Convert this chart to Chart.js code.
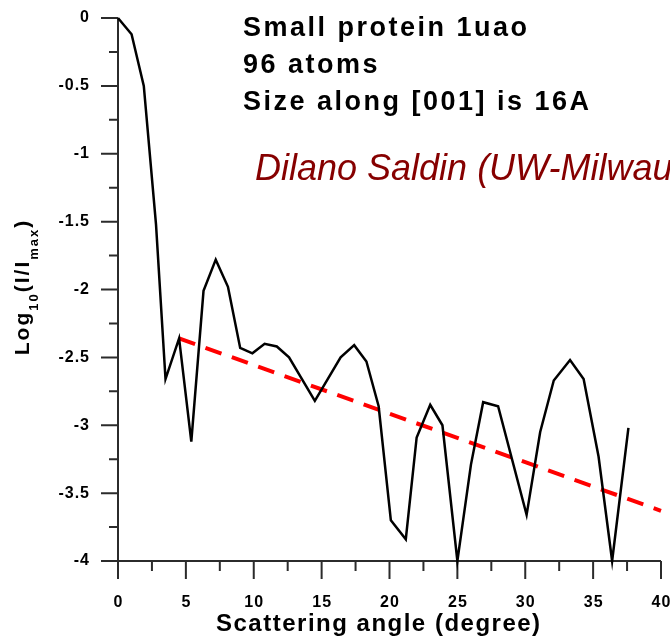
<!DOCTYPE html>
<html lang="en">

<head>
  <meta charset="UTF-8" />
  <title>Small protein 1uao - scattering</title>
  <script src="https://cdn.jsdelivr.net/npm/chart.js"></script>
  <style>
    html, body { margin: 0; padding: 0; background: #fff; overflow: hidden; }
    #wrap { width: 670px; height: 638px; position: relative; }
  </style>
</head>

<body>
  <div id="wrap"><canvas id="scatterChart"></canvas></div>

  <script>
    // data
    const angles = [0, 1.0, 1.9, 2.8, 3.5, 4.5, 5.4, 6.3, 7.2, 8.1, 9.0, 9.9, 10.8, 11.7, 12.6, 14.5,
      16.4, 17.4, 18.3, 19.2, 20.1, 21.2, 22.0, 23.0, 23.9, 25.0, 26.0, 26.9, 28.0, 30.1,
      31.1, 32.1, 33.3, 34.3, 35.4, 36.4, 37.6];
    const logIntensity = [0, -0.12, -0.5, -1.52, -2.66, -2.36, -3.12, -2.01, -1.78, -1.98, -2.43, -2.47, -2.40, -2.42, -2.50, -2.82,
      -2.50, -2.41, -2.53, -2.86, -3.70, -3.84, -3.09, -2.85, -3.0, -4.0, -3.29, -2.83, -2.86, -3.66,
      -3.05, -2.67, -2.52, -2.66, -3.23, -4.0, -3.02];
    const trendAngles = [4.5, 40];
    const trendValues = [-2.36, -3.63];

    const xMajorTicks = [0, 5, 10, 15, 20, 25, 30, 35, 40];
    const xMinorTicks = [2.5, 7.5, 12.5, 17.5, 22.5, 27.5, 32.5, 37.5];
    const yMajorTicks = [0, -0.5, -1, -1.5, -2, -2.5, -3, -3.5, -4];
    const yMinorTicks = [-0.25, -0.75, -1.25, -1.75, -2.25, -2.75, -3.25, -3.75];

    const notes = ['Small protein 1uao', '96 atoms', 'Size along [001] is 16A'];
    const credit = 'Dilano Saldin (UW-Milwaukee)';

    // axes, titles and notes drawn with the chart's own scales
    const axesPlugin = {
      id: 'axesPlugin',
      beforeDatasetsDraw(chart) {
        const ctx = chart.ctx;
        const x = chart.scales.x, y = chart.scales.y;
        const left = x.getPixelForValue(0), bottom = y.getPixelForValue(-4);
        ctx.save();
        ctx.strokeStyle = '#2b2b2b';
        ctx.lineWidth = 2;
        ctx.beginPath();
        ctx.moveTo(left, y.getPixelForValue(0));
        ctx.lineTo(left, bottom);
        ctx.lineTo(x.getPixelForValue(40), bottom);
        yMajorTicks.forEach(v => { const p = y.getPixelForValue(v); ctx.moveTo(left - 17, p); ctx.lineTo(left, p); });
        yMinorTicks.forEach(v => { const p = y.getPixelForValue(v); ctx.moveTo(left - 9, p); ctx.lineTo(left, p); });
        xMajorTicks.forEach(v => { const p = x.getPixelForValue(v); ctx.moveTo(p, bottom); ctx.lineTo(p, bottom + 18); });
        xMinorTicks.forEach(v => { const p = x.getPixelForValue(v); ctx.moveTo(p, bottom); ctx.lineTo(p, bottom + 10); });
        ctx.stroke();

        ctx.fillStyle = '#000';
        ctx.font = 'bold 16px "Liberation Sans", Arial, sans-serif';
        ctx.letterSpacing = '1px';
        ctx.textAlign = 'right';
        ctx.textBaseline = 'middle';
        yMajorTicks.forEach(v => ctx.fillText(String(v), left - 28, y.getPixelForValue(v)));
        ctx.textAlign = 'center';
        ctx.textBaseline = 'alphabetic';
        xMajorTicks.forEach(v => ctx.fillText(String(v), x.getPixelForValue(v) + 0.5, bottom + 46));

        // x title
        ctx.font = 'bold 24px "Liberation Sans", Arial, sans-serif';
        ctx.letterSpacing = '1.5px';
        ctx.textAlign = 'left';
        ctx.fillText('Scattering angle (degree)', 216, 631);

        // y title with subscripts
        ctx.translate(29, 287);
        ctx.rotate(-Math.PI / 2);
        const parts = [['Log', 21, 0], ['10', 13, 9], ['(I/I', 21, 0], ['max', 13, 9], [')', 21, 0]];
        ctx.letterSpacing = '2px';
        let total = 0;
        parts.forEach(p => { ctx.font = 'bold ' + p[1] + 'px "Liberation Sans", Arial, sans-serif'; total += ctx.measureText(p[0]).width; });
        let cx = -total / 2;
        parts.forEach(p => {
          ctx.font = 'bold ' + p[1] + 'px "Liberation Sans", Arial, sans-serif';
          ctx.fillText(p[0], cx, p[2]);
          cx += ctx.measureText(p[0]).width;
        });
        ctx.restore();
      },
      afterDraw(chart) {
        const ctx = chart.ctx;
        ctx.save();
        ctx.fillStyle = '#000';
        ctx.textAlign = 'left';
        ctx.textBaseline = 'alphabetic';
        ctx.font = 'bold 27px "Liberation Sans", Arial, sans-serif';
        ctx.letterSpacing = '2.5px';
        notes.forEach((t, i) => ctx.fillText(t, 243, 36 + i * 37));
        ctx.letterSpacing = '0px';
        ctx.fillStyle = '#860000';
        ctx.font = 'italic 36px "Liberation Sans", Arial, sans-serif';
        ctx.fillText(credit, 255, 180);
        ctx.restore();
      }
    };

    new Chart(document.getElementById('scatterChart'), {
      type: 'line',
      data: {
        datasets: [{
          label: 'Log10(I/Imax)',
          data: angles.map((a, i) => ({ x: a, y: logIntensity[i] })),
          borderColor: '#000',
          borderWidth: 2.5,
          pointRadius: 0,
          tension: 0,
          clip: false
        }, {
          label: 'trend',
          data: trendAngles.map((a, i) => ({ x: a, y: trendValues[i] })),
          borderColor: '#ff0000',
          borderWidth: 4,
          borderDash: [17, 11],
          pointRadius: 0,
          clip: false
        }]
      },
      options: {
        responsive: true,
        maintainAspectRatio: false,
        animation: false,
        layout: { padding: { left: 118, top: 18, right: 9, bottom: 77 } },
        scales: {
          x: { type: 'linear', min: 0, max: 40, display: false },
          y: { type: 'linear', min: -4, max: 0, display: false }
        },
        plugins: { legend: { display: false }, tooltip: { enabled: false } }
      },
      plugins: [axesPlugin]
    });
  </script>
</body>

</html>
